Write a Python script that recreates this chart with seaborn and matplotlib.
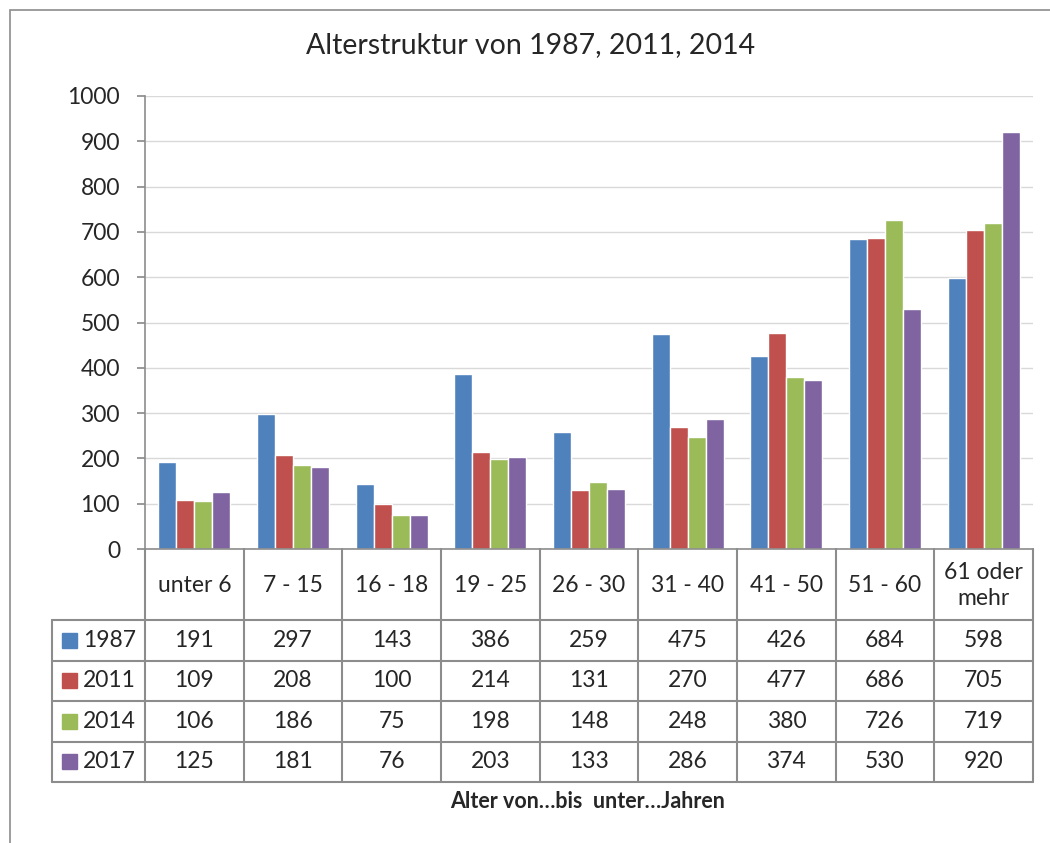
import pandas as pd
import matplotlib.pyplot as plt
import seaborn as sns
from matplotlib.lines import Line2D
from matplotlib.patches import Rectangle

# data
age_groups = ["unter 6", "7 - 15", "16 - 18", "19 - 25", "26 - 30",
              "31 - 40", "41 - 50", "51 - 60", "61 oder\nmehr"]
years = ["1987", "2011", "2014", "2017"]
v1987 = [191, 297, 143, 386, 259, 475, 426, 684, 598]
v2011 = [109, 208, 100, 214, 131, 270, 477, 686, 705]
v2014 = [106, 186, 75, 198, 148, 248, 380, 726, 719]
v2017 = [125, 181, 76, 203, 133, 286, 374, 530, 920]
colors = ["#4F81BD", "#C0504D", "#9BBB59", "#8064A2"]

series = {"1987": v1987, "2011": v2011, "2014": v2014, "2017": v2017}
df = pd.DataFrame([
    {"Alter": g, "Jahr": y, "Anzahl": vals[i]}
    for y, vals in series.items() for i, g in enumerate(age_groups)
])

sns.set_theme(style="white")
plt.rcParams["font.family"] = ["Lato", "DejaVu Sans"]

W, H = 1050, 843
fig = plt.figure(figsize=(W / 100, H / 100), dpi=100)

# outer chart border
fig.patches.append(Rectangle((10 / W, -0.05), 1.1, (H - 10) / H + 0.05,
                             transform=fig.transFigure, fill=False,
                             edgecolor="#8c8c8c", linewidth=1.2))

left, right, top, bottom = 145, 1033, 96, 549
ax = fig.add_axes([left / W, 1 - bottom / H, (right - left) / W, (bottom - top) / H])
sns.barplot(data=df, x="Alter", y="Anzahl", hue="Jahr", palette=colors,
            width=0.73, gap=0, saturation=1, legend=False, ax=ax)
ax.set_ylim(0, 1000)
ax.set_xlim(-0.5, len(age_groups) - 0.5)
ax.set_yticks(range(0, 1001, 100))
ax.tick_params(axis="y", labelsize=16.5, length=6, color="#8c8c8c", pad=12, left=True)
ax.set_xticks([])
ax.set_xlabel("")
ax.set_ylabel("")
ax.grid(axis="y", color="#d9d9d9", linewidth=1)
ax.set_axisbelow(True)
for s in ["top", "right"]:
    ax.spines[s].set_visible(False)
for s in ["left", "bottom"]:
    ax.spines[s].set_color("#8c8c8c")
    ax.spines[s].set_linewidth(1.2)

fig.text(531 / W, 1 - 45 / H, "Alterstruktur von 1987, 2011, 2014",
         ha="center", va="center", fontsize=20.5)

# data table below the chart (pixel coordinates)
tax = fig.add_axes([0, 0, 1, 1])
tax.set_xlim(0, W)
tax.set_ylim(H, 0)
tax.axis("off")
lc = "#8c8c8c"
lw = 1.5
colw = (right - left) / len(age_groups)
tbl_left = 52
header_bottom = 620
row_h = 40.5
row_tops = [header_bottom + i * row_h for i in range(len(years) + 1)]
fs = 16.5

# vertical lines
for i in range(len(age_groups) + 1):
    x = left + i * colw
    tax.add_line(Line2D([x, x], [bottom, row_tops[-1]], color=lc, lw=lw))
tax.add_line(Line2D([tbl_left, tbl_left], [header_bottom, row_tops[-1]], color=lc, lw=lw))
# horizontal lines
for y in row_tops:
    tax.add_line(Line2D([tbl_left, right], [y, y], color=lc, lw=lw))

for i, g in enumerate(age_groups):
    cx = left + (i + 0.5) * colw
    tax.text(cx, (bottom + header_bottom) / 2 + 1, g, ha="center", va="center",
             fontsize=fs, linespacing=1.35)
    for r, y in enumerate(years):
        cy = row_tops[r] + row_h / 2
        tax.text(cx, cy, str(series[y][i]), ha="center", va="center", fontsize=fs)

for r, y in enumerate(years):
    cy = row_tops[r] + row_h / 2
    tax.add_patch(Rectangle((62, cy - 7.5), 15, 15, color=colors[r]))
    tax.text(83, cy, y, ha="left", va="center", fontsize=fs)

tax.text(588, 801, "Alter von…bis  unter…Jahren",
         ha="center", va="center", fontsize=15.5, fontweight="bold")

fig.savefig("out.png", dpi=100)
